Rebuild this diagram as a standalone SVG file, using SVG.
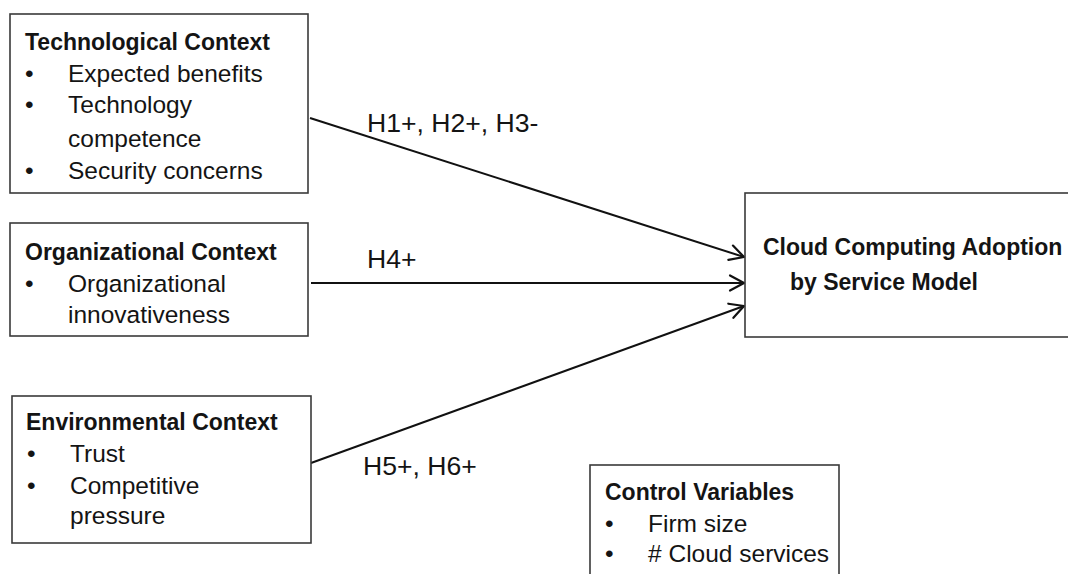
<svg xmlns="http://www.w3.org/2000/svg" width="1068" height="574" viewBox="0 0 1068 574">
  <style>
    .box { fill: #ffffff; stroke: #3a3a3a; stroke-width: 1.6; }
    .title { font-family: "Liberation Sans", Arial, sans-serif; font-weight: bold; font-size: 23px; fill: #141414; }
    .item { font-family: "Liberation Sans", Arial, sans-serif; font-size: 24.5px; fill: #141414; }
    .hyp { font-family: "Liberation Sans", Arial, sans-serif; font-size: 26.6px; fill: #141414; }
    .link { stroke: #111111; stroke-width: 2; fill: none; marker-end: url(#arrow); }
  </style>
  <defs>
    <marker id="arrow" markerUnits="userSpaceOnUse" markerWidth="20" markerHeight="20" viewBox="-16 -10 18 20" refX="0" refY="0" orient="auto">
      <path d="M-14,-7.5 L0,0 L-14,7.5" fill="none" stroke="#111111" stroke-width="2.2" stroke-linecap="round" stroke-linejoin="round"/>
    </marker>
  </defs>
  <rect width="1068" height="574" fill="#ffffff"/>

  <g id="connectors">
    <line class="link" x1="310" y1="118" x2="744" y2="257"/>
    <line class="link" x1="311" y1="283" x2="744" y2="283"/>
    <line class="link" x1="311" y1="463" x2="744" y2="306"/>
    <text class="hyp" x="367" y="132">H1+, H2+, H3-</text>
    <text class="hyp" x="367" y="268">H4+</text>
    <text class="hyp" x="363" y="475">H5+, H6+</text>
  </g>

  <g id="technological">
    <rect class="box" x="10" y="14" width="298" height="179"/>
    <text class="title" x="25" y="50">Technological Context</text>
    <text class="item" x="25" y="82">•</text>
    <text class="item" x="68" y="82">Expected benefits</text>
    <text class="item" x="25" y="113">•</text>
    <text class="item" x="68" y="113">Technology</text>
    <text class="item" x="68" y="147">competence</text>
    <text class="item" x="25" y="179">•</text>
    <text class="item" x="68" y="179">Security concerns</text>
  </g>

  <g id="organizational">
    <rect class="box" x="10" y="223" width="298" height="113"/>
    <text class="title" x="25" y="260">Organizational Context</text>
    <text class="item" x="25" y="292">•</text>
    <text class="item" x="68" y="292">Organizational</text>
    <text class="item" x="68" y="323">innovativeness</text>
  </g>

  <g id="environmental">
    <rect class="box" x="12" y="396" width="299" height="147"/>
    <text class="title" x="26" y="430">Environmental Context</text>
    <text class="item" x="27" y="462">•</text>
    <text class="item" x="70" y="462">Trust</text>
    <text class="item" x="27" y="494">•</text>
    <text class="item" x="70" y="494">Competitive</text>
    <text class="item" x="70" y="524">pressure</text>
  </g>

  <g id="adoption">
    <rect class="box" x="745" y="193" width="340" height="144"/>
    <text class="title" x="763" y="255">Cloud Computing Adoption</text>
    <text class="title" x="790" y="290">by Service Model</text>
  </g>

  <g id="controls">
    <rect class="box" x="590" y="465" width="249" height="130"/>
    <text class="title" x="605" y="500">Control Variables</text>
    <text class="item" x="605" y="532">•</text>
    <text class="item" x="648" y="532">Firm size</text>
    <text class="item" x="605" y="562">•</text>
    <text class="item" x="648" y="562">#  Cloud services</text>
  </g>
</svg>
